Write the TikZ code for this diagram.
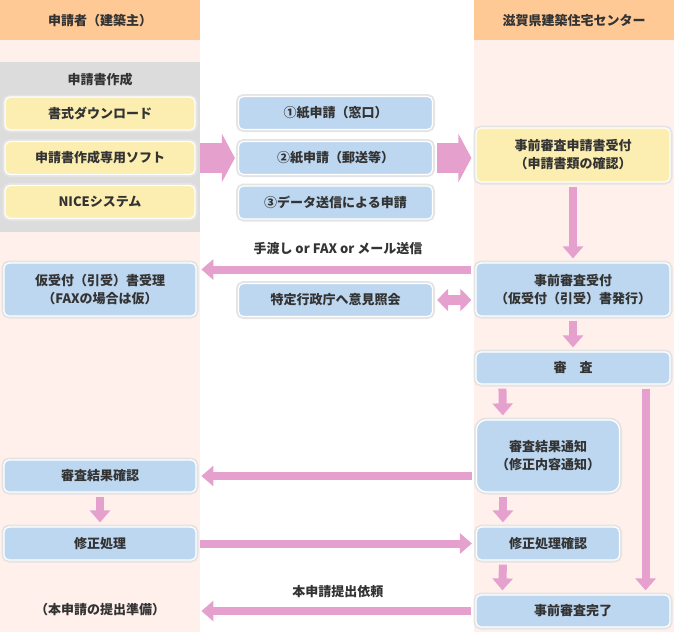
\documentclass[tikz,border=0pt]{standalone}
\usepackage{fontspec}
\setmainfont{Noto Sans CJK JP}
\usepackage{xcolor}
\usepackage{tikz}
\usetikzlibrary{arrows.meta}

\definecolor{hdrOrange}{RGB}{255,201,150}
\definecolor{colPink}{RGB}{255,240,236}
\definecolor{panelGray}{RGB}{220,220,220}
\definecolor{boxYellow}{RGB}{252,238,176}
\definecolor{boxBlue}{RGB}{189,215,240}
\definecolor{arrowPink}{RGB}{230,160,205}
\definecolor{haloGray}{RGB}{228,228,228}
\definecolor{txtGray}{RGB}{51,51,51}

\begin{document}
\begin{tikzpicture}[x=1pt,y=-1pt,
    font=\fontsize{13}{18}\selectfont\bfseries,text=txtGray,
    column/.style={rectangle,fill=colPink,inner sep=0pt,minimum width=200pt,minimum height=592pt,anchor=north west},
    header/.style={rectangle,fill=hdrOrange,inner sep=0pt,minimum width=200pt,minimum height=40pt,anchor=north west},
    box/.style={rectangle,rounded corners=5pt,draw=white,line width=1.2pt,
        preaction={draw=haloGray,line width=5pt},align=center,inner sep=0pt},
    yellowbox/.style={box,fill=boxYellow},
    bluebox/.style={box,fill=boxBlue},
    flow/.style={draw=arrowPink,line width=8pt,-{Triangle[width=20pt,length=12pt]},shorten <=4pt,shorten >=4pt},
    bigflow/.style={draw=arrowPink,line width=30pt,-{Triangle[width=48pt,length=13pt]}},
    biflow/.style={draw=arrowPink,line width=10pt,{Triangle[width=22pt,length=11pt]}-{Triangle[width=22pt,length=11pt]},shorten <=4pt,shorten >=4pt}]

    \useasboundingbox (0,0) rectangle (674,632);

    \node[column] (colL) at (0,40) {};
    \node[column] (colR) at (474,40) {};
    \node[header] (hdrL) at (0,0) {申請者（建築主）};
    \node[header] (hdrR) at (474,0) {滋賀県建築住宅センター};

    \node[rectangle,fill=panelGray,inner sep=0pt,minimum width=200pt,minimum height=170pt,anchor=north west] (sakusei) at (0,62) {};
    \node (sakuseiTitle) at (100,80) {申請書作成};
    \node[yellowbox,minimum width=190pt,minimum height=33pt] (shoshiki) at (100,113.5) {書式ダウンロード};
    \node[yellowbox,minimum width=190pt,minimum height=33pt] (soft) at (100,158) {申請書作成専用ソフト};
    \node[yellowbox,minimum width=190pt,minimum height=33pt] (nice) at (100,202) {NICEシステム};

    \node[bluebox,minimum width=194pt,minimum height=33pt] (madoguchi) at (335.5,113) {①紙申請（窓口）};
    \node[bluebox,minimum width=194pt,minimum height=33pt] (yuso) at (335.5,158) {②紙申請（郵送等）};
    \node[bluebox,minimum width=194pt,minimum height=33pt] (data) at (335.5,202.5) {③データ送信による申請};

    \node[yellowbox,minimum width=194pt,minimum height=54pt] (uketsuke) at (573,155) {事前審査申請書受付\\（申請書類の確認）};
    \node[bluebox,minimum width=194pt,minimum height=53pt] (juriR) at (573,289.5) {事前審査受付\\（仮受付（引受）書発行）};
    \node[bluebox,minimum width=192pt,minimum height=53pt] (juriL) at (100,289.5) {仮受付（引受）書受理\\（FAXの場合は仮）};
    \node[bluebox,minimum width=194pt,minimum height=33pt] (shoukai) at (335.5,300) {特定行政庁へ意見照会};
    \node[bluebox,minimum width=194pt,minimum height=32pt] (shinsa) at (573,368) {審　査};
    \node[bluebox,rounded corners=10pt,minimum width=143pt,minimum height=72pt] (tsuchi) at (548,456) {審査結果通知\\（修正内容通知）};
    \node[bluebox,minimum width=192pt,minimum height=32pt] (kakunin) at (100,476) {審査結果確認};
    \node[bluebox,minimum width=192pt,minimum height=33pt] (shusei) at (100,543.5) {修正処理};
    \node[bluebox,minimum width=143pt,minimum height=33pt] (shuseiK) at (548,543.5) {修正処理確認};
    \node[bluebox,minimum width=194pt,minimum height=32pt] (kanryo) at (573,611) {事前審査完了};
    \node (junbi) at (100,610) {（本申請の提出準備）};

    \path (sakusei.east |- yuso.west) edge[bigflow,shorten >=3pt] (yuso.west);
    \path (yuso.east) edge[bigflow,shorten <=4pt,shorten >=4pt] (uketsuke.west |- yuso.east);
    \path (uketsuke.south) edge[flow] (juriR.north);
    \path ([yshift=20pt]juriR.west) edge[flow,shorten >=1pt] node[above=7pt] {手渡し or FAX or メール送信} ([yshift=20pt]juriL.east -| colL.east);
    \path (shoukai.east) edge[biflow] (juriR.west |- shoukai.east);
    \path (juriR.south) edge[flow] (shinsa.north);
    \path ([xshift=27pt]shinsa.south west) edge[flow] ([xshift=27pt]tsuchi.north west);
    \path ([xshift=-25pt]shinsa.south east) edge[flow] ([xshift=-25pt]kanryo.north east);
    \path (tsuchi.west |- kakunin.east) edge[flow,shorten >=1pt] (colL.east |- kakunin.east);
    \path (kakunin.south) edge[flow] (shusei.north);
    \path (colL.east |- shusei.east) edge[flow,shorten <=0pt] (shuseiK.west);
    \path ([xshift=27pt]tsuchi.south west) edge[flow] ([xshift=27pt]shuseiK.north west);
    \path ([xshift=27pt]shuseiK.south west) edge[flow] ([xshift=27pt]kanryo.north west);
    \path (kanryo.west) edge[flow,shorten >=1pt] node[above=6pt] {本申請提出依頼} (colL.east |- kanryo.west);
\end{tikzpicture}
\end{document}
